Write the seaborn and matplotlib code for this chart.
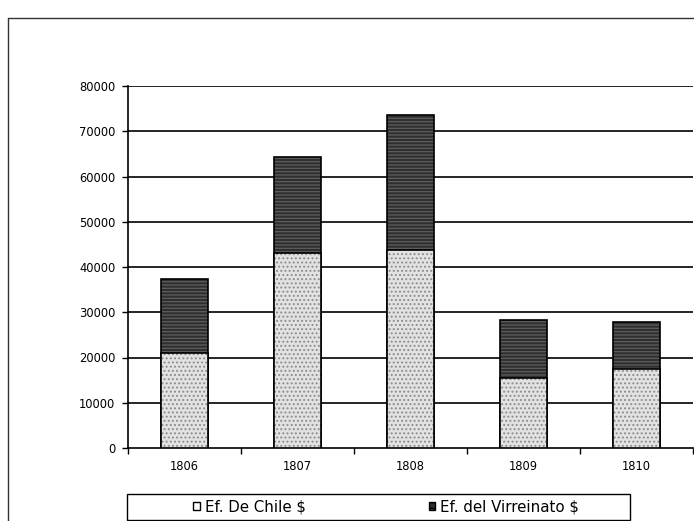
import matplotlib
matplotlib.use("Agg")
import matplotlib.pyplot as plt
from matplotlib.patches import Patch, Rectangle
from matplotlib.lines import Line2D
import numpy as np
import pandas as pd
import seaborn as sns

# Annual remittances (pesos) by source
years = ["1806", "1807", "1808", "1809", "1810"]
chile = [21000, 43100, 43700, 15500, 17500]
virreinato = [16400, 21100, 29900, 12800, 10300]
y_ticks = [0, 10000, 20000, 30000, 40000, 50000, 60000, 70000, 80000]
series_names = ["Ef. De Chile $", "Ef. del Virreinato $"]

sns.set_theme(style="white")
plt.rcParams["font.family"] = ["DejaVu Sans"]
plt.rcParams["hatch.linewidth"] = 0.9
plt.rcParams["text.color"] = "black"
plt.rcParams["xtick.color"] = "black"
plt.rcParams["ytick.color"] = "black"

df = pd.DataFrame({
    "year": years,
    "chile": chile,
    "virreinato": virreinato,
})
df["total"] = df["chile"] + df["virreinato"]

W, H = 694, 521
fig = plt.figure(figsize=(W / 100, H / 100), dpi=100)
ax = fig.add_axes([128 / W, (H - 448) / H, (693 - 128) / W, (448 - 86) / H])

dark = "#2f2f2f"
light = "#e2e2e2"

# stacked bars: full total in dark, Chile portion drawn over the bottom
sns.barplot(data=df, x="year", y="total", ax=ax, color=dark, width=0.41,
            saturation=1, edgecolor="black", linewidth=1.2, zorder=3)
n_top = len(ax.patches)
sns.barplot(data=df, x="year", y="chile", ax=ax, color=light, width=0.41,
            saturation=1, edgecolor="black", linewidth=1.2, zorder=4)
for i, p in enumerate(ax.patches):
    if i < n_top:
        p.set_hatch("-----")
        p._hatch_color = matplotlib.colors.to_rgba("#5e5e5e")
    else:
        p.set_hatch("....")
        p._hatch_color = matplotlib.colors.to_rgba("#8c8c8c")

ax.set_ylim(0, 80000)
ax.set_xlim(-0.5, 4.5)
ax.set_yticks(y_ticks)
ax.set_yticklabels([str(v) for v in y_ticks])
ax.set_xlabel("")
ax.set_ylabel("")

ax.grid(False)
for v in y_ticks[1:]:
    ax.axhline(v, color="black", linewidth=1.2, zorder=1)

for s in ["top", "right"]:
    ax.spines[s].set_visible(False)
for s in ["left", "bottom"]:
    ax.spines[s].set_color("black")
    ax.spines[s].set_linewidth(1.2)

ax.tick_params(axis="y", which="major", direction="out", length=4, width=1,
               color="black", labelcolor="black", labelsize=8.3, pad=5, left=True)
ax.tick_params(axis="x", which="major", length=0, labelsize=8.3,
               labelcolor="black", pad=9)
ax.set_xticks(np.arange(-0.5, 5.0, 1.0), minor=True)
ax.tick_params(axis="x", which="minor", direction="out", length=4, width=1,
               color="black", bottom=True)

# outer chart frame
fig.add_artist(Line2D([8 / W, 8 / W], [0, 1 - 18 / H], transform=fig.transFigure,
                      color="#333333", linewidth=1.0))
fig.add_artist(Line2D([8 / W, 1], [1 - 18 / H, 1 - 18 / H], transform=fig.transFigure,
                      color="#333333", linewidth=1.0))

# legend box
fig.add_artist(Rectangle((127 / W, 1 - 520 / H), 503 / W, 26 / H,
                         transform=fig.transFigure, facecolor="white",
                         edgecolor="black", linewidth=1.0))
handles = [
    Patch(facecolor="white", edgecolor="black", linewidth=1.0),
    Patch(facecolor=dark, edgecolor="black", linewidth=1.0, hatch="---"),
]
fig.legend(handles, series_names, loc="center", ncol=2, frameon=False,
           bbox_to_anchor=(386 / W, 1 - 507 / H), fontsize=10.8,
           handlelength=0.45, handleheight=0.45, handletextpad=0.3,
           columnspacing=8.2, borderpad=0, labelcolor="black")

fig.savefig("out.png", dpi=100)
